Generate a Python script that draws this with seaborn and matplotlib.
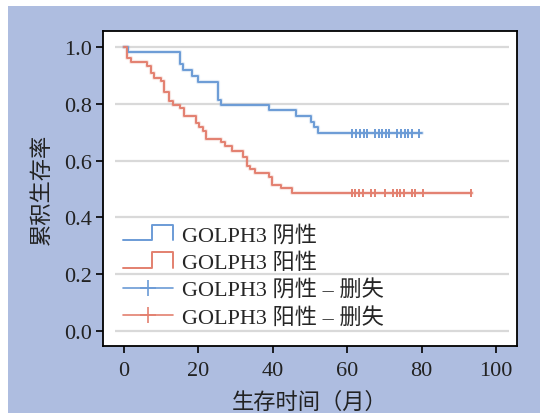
import numpy as np
import pandas as pd
import seaborn as sns
import matplotlib.pyplot as plt
from matplotlib.lines import Line2D
from matplotlib.patches import Rectangle
from matplotlib.legend_handler import HandlerBase

# Kaplan-Meier steps (time in months, survival after the drop)
neg_times = [1.1, 15.0, 16.0, 18.2, 19.9, 25.4, 26.0, 39.0, 46.2, 50.2, 51.2, 52.2]
neg_surv = [0.981, 0.940, 0.917, 0.899, 0.878, 0.814, 0.797, 0.778, 0.756, 0.735, 0.717, 0.696]
neg_end = 80.0
neg_censor = [61.2, 62.3, 63.4, 64.4, 65.2, 67.5, 68.5, 69.4, 70.4, 71.3,
              73.4, 74.4, 75.4, 76.4, 77.4, 79.4]

pos_times = [0.9, 1.9, 6.1, 7.2, 8.1, 10.1, 10.8, 12.1, 13.1, 15.1, 16.2, 19.3, 20.2,
             21.2, 22.1, 26.1, 27.2, 29.1, 32.1, 33.2, 34.0, 35.1, 39.1, 39.8, 42.1, 45.2]
pos_surv = [0.960, 0.946, 0.934, 0.908, 0.892, 0.879, 0.840, 0.811, 0.796, 0.784, 0.756,
            0.731, 0.717, 0.703, 0.676, 0.664, 0.650, 0.635, 0.611, 0.582, 0.570, 0.555,
            0.541, 0.515, 0.502, 0.486]
pos_end = 93.5
pos_censor = [61.2, 62.1, 63.2, 64.2, 66.3, 67.4, 70.2, 72.3, 73.3, 74.3, 75.3, 77.3,
              78.3, 80.4, 93.3]

labels = ['GOLPH3 阴性', 'GOLPH3 阳性', 'GOLPH3 阴性 – 删失', 'GOLPH3 阳性 – 删失']
xticks = [0, 20, 40, 60, 80, 100]
yticks = [0.0, 0.2, 0.4, 0.6, 0.8, 1.0]

BLUE = '#6b9bd6'
RED = '#e3806f'
BG = '#aebde0'


def km_frame(times, surv, end, group):
    t = [0.0] + list(times) + [end]
    s = [1.0] + list(surv) + [surv[-1]]
    return pd.DataFrame({'time': t, 'surv': s, 'group': group})


def censor_frame(times, surv, group):
    # survival level at each censor time is the last step value
    return pd.DataFrame({'time': times, 'surv': surv[-1], 'group': group})


class StepHandler(HandlerBase):
    def create_artists(self, legend, orig_handle, xdescent, ydescent,
                       width, height, fontsize, trans):
        x0 = -xdescent
        x1 = x0 + width
        xm = x0 + width * 0.58
        yb = -ydescent
        yt = yb + height
        line = Line2D([x0, xm, xm, x1, x1], [yb, yb, yt, yt, yb],
                      color=orig_handle.get_color(),
                      lw=orig_handle.get_linewidth(), transform=trans)
        return [line]


sns.set_style('white')
plt.rcParams['font.family'] = ['Liberation Serif', 'Noto Sans CJK SC']
plt.rcParams['axes.unicode_minus'] = False

fig = plt.figure(figsize=(5.4, 4.14), dpi=100, facecolor='white')
fig.patches.append(Rectangle((8 / 540, 0), 1, 1 - 7 / 414, transform=fig.transFigure,
                             facecolor=BG, edgecolor='none', zorder=-10))
ax = fig.add_axes([103 / 540, 1 - 347 / 414, 414 / 540, 315 / 414])
ax.set_facecolor('white')

curves = pd.concat([km_frame(neg_times, neg_surv, neg_end, 'neg'),
                    km_frame(pos_times, pos_surv, pos_end, 'pos')], ignore_index=True)
censors = pd.concat([censor_frame(neg_censor, neg_surv, 'neg'),
                     censor_frame(pos_censor, pos_surv, 'pos')], ignore_index=True)
palette = {'neg': BLUE, 'pos': RED}

# grid lines that stop short of the frame
ax.hlines(yticks, -2.4, 103.5, color='#d9d9d9', lw=1.6, zorder=1)

# soft halo under each curve, then the curve itself
for grp, col in palette.items():
    d = curves[curves.group == grp]
    ax.plot(d.time, d.surv, drawstyle='steps-post', color=col, lw=3.0, alpha=0.2, zorder=2)
sns.lineplot(data=curves, x='time', y='surv', hue='group', palette=palette,
             estimator=None, sort=False, drawstyle='steps-post', lw=1.4,
             legend=False, ax=ax, zorder=3)
sns.scatterplot(data=censors, x='time', y='surv', hue='group', palette=palette,
                marker='|', s=40, linewidth=1.4, legend=False, ax=ax, zorder=4)

ax.set_xlim(-5.6, 105.6)
ax.set_ylim(-0.053, 1.056)
ax.set_xticks(xticks)
ax.set_yticks(yticks)
ax.set_yticklabels([f'{v:.1f}' for v in yticks])
ax.tick_params(axis='both', direction='out', length=5, width=1.2, color='black',
               labelsize=16, labelcolor='#222222', pad=3)
ax.tick_params(axis='x', bottom=True, pad=6)
ax.tick_params(axis='y', left=True)
for sp in ax.spines.values():
    sp.set_visible(True)
    sp.set_color('black')
    sp.set_linewidth(1.3)

ax.set_xlabel('生存时间（月）', fontsize=16, color='#222222', labelpad=8)
ax.set_ylabel('累积生存率', fontsize=16, color='#222222', labelpad=8)

handles = [Line2D([], [], color=BLUE, lw=1.4),
           Line2D([], [], color=RED, lw=1.4),
           Line2D([], [], color=BLUE, lw=1.2, marker='+', markersize=11, markeredgewidth=1.2),
           Line2D([], [], color=RED, lw=1.2, marker='+', markersize=11, markeredgewidth=1.2)]
ax.legend(handles, labels, handler_map={handles[0]: StepHandler(), handles[1]: StepHandler()},
          loc='upper left', bbox_to_anchor=(0.048, 0.385), frameon=False, fontsize=16,
          handlelength=2.25, handletextpad=0.4, labelspacing=0.3, borderpad=0,
          borderaxespad=0, numpoints=1)

fig.savefig('out.png', dpi=100, facecolor=fig.get_facecolor())
